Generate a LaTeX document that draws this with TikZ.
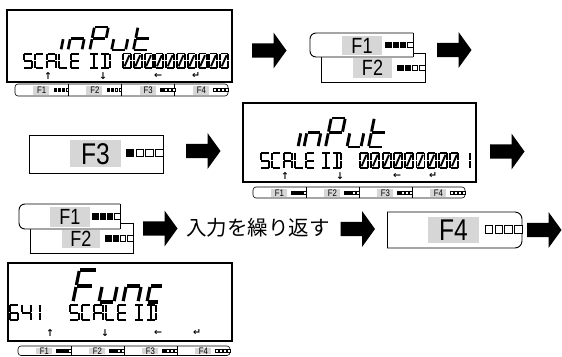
\documentclass[tikz,border=0pt]{standalone}
\usepackage{fontspec}
\setmainfont{Liberation Sans}
\newfontfamily\flab{Liberation Sans}[FakeStretch=0.82]
\newfontfamily\cjkf{Noto Sans CJK JP}
\newfontfamily\symf{DejaVu Sans}
\definecolor{labgray}{HTML}{D6D6D6}
% segment strokes in a unit cell (u right, v up)
\def\sga{\draw (0.05,1)--(0.95,1);}
\def\sgb{\draw (1,0.97)--(1,0.53);}
\def\sgc{\draw (1,0.47)--(1,0.03);}
\def\sgd{\draw (0.05,0)--(0.95,0);}
\def\sge{\draw (0,0.03)--(0,0.47);}
\def\sgf{\draw (0,0.53)--(0,0.97);}
\def\sgg{\draw (0.05,0.5)--(0.95,0.5);}
\def\sgs{\draw (0.2,0.12)--(0.8,0.88);}
\def\sgm{\draw (0.5,0.05)--(0.5,0.95);}
\newcommand\defch[2]{\expandafter\def\csname ch#1\endcsname{#2}}
\defch{S}{a,f,g,c,d}
\defch{C}{a,f,e,d}
\defch{A}{a,b,c,e,f,g}
\defch{L}{f,e,d}
\defch{E}{a,f,g,e,d}
\defch{I}{a,d,m}
\defch{D}{a,b,c,d,m}
\defch{0}{a,b,c,d,e,f,s}
\defch{1}{b,c}
\defch{4}{f,g,b,c}
\defch{6}{a,f,g,e,d,c}
\defch{i}{e}
\defch{n}{e,g,c}
\defch{P}{a,b,f,g,e}
\defch{u}{e,d,c}
\defch{t}{f,e,g,d}
\defch{F}{a,f,g,e}
\defch{c}{g,e,d}
% #1 x0  #2 bottom y  #3 pitch  #4 width  #5 height  #6 line width  #7 slant  #8 chars
\newcommand\segstr[8]{%
  \foreach \cc [count=\ii from 0] in {#8} {%
    \edef\seglist{\csname ch\cc\endcsname}%
    \begin{scope}[shift={(#1+\ii*#3,#2)}, x={(#4pt,0pt)}, y={(#7*#5pt,#5pt)}, line width=#6pt, line cap=butt]
      \foreach \sn in \seglist {\csname sg\sn\endcsname}
    \end{scope}
  }}
% function-key bar: #1 x0 #2 y0 #3 x1 #4 y1 #5 name prefix
\newcommand\fbar[5]{%
  \pgfmathsetmacro\fw{(#3-#1)/4}%
  \pgfmathsetmacro\my{(#2+#4)/2}%
  \draw[fb, rounded corners=3pt] (#1,#2) rectangle (#3,#4);
  \foreach \k in {1,2,3,4} {%
    \pgfmathsetmacro\sx{#1+(\k-1)*\fw}%
    \pgfmathsetmacro\ex{#1+\k*\fw}%
    \ifnum\k<4 \draw[fb] (\ex,#2)--(\ex,#4);\fi
    \fill[labgray] (\sx+0.34*\fw,#2+1.5) rectangle (\sx+0.64*\fw,#4-1.5);
    \node[font=\flab\fontsize{9.5}{9.5}\selectfont, inner sep=0] (#5\k) at (\sx+0.5*\fw,\my+0.3) {F\k};
    \foreach \j in {1,2,3,4} {%
      \pgfmathsetmacro\qx{\ex-(4-\j)*4-2.6}%
      \ifnum\j<\numexpr5-\k\relax
        \filldraw[line width=0.3pt] (\qx,\my-1.4) rectangle ++(2.6,2.8);
      \else
        \filldraw[line width=0.3pt, fill=white] (\qx,\my-1.4) rectangle ++(2.6,2.8);
      \fi}%
  }}
% indicator squares: #1 x right, #2 y centre, #3 size, #4 pitch, #5 number filled
\newcommand\indic[5]{%
  \foreach \j in {1,2,3,4} {%
    \pgfmathsetmacro\qx{#1-(4-\j)*#4-#3}%
    \ifnum\j>#5
      \filldraw[line width=0.6pt, fill=white] (\qx,#2-#3/2) rectangle ++(#3,#3);
    \else
      \filldraw[line width=0.6pt] (\qx,#2-#3/2) rectangle ++(#3,#3);
    \fi}}
% block arrow: #1 name, #2 x left, #3 y centre
\newcommand\barrow[3]{%
  \fill (#2,#3-7.2) -- (#2+21.5,#3-7.2) -- (#2+21.5,#3-18) -- (#2+34.5,#3)
        -- (#2+21.5,#3+18) -- (#2+21.5,#3+7.2) -- (#2,#3+7.2) -- cycle;
  \coordinate (#1) at (#2+17,#3);}
% pointer glyphs under a display: #1 prefix #2 y #3..#6 x
\newcommand\ptrs[6]{%
  \node[ptr] (#1u) at (#3,#2) {↑};
  \node[ptr] (#1d) at (#4,#2) {↓};
  \node[ptr] (#1l) at (#5,#2) {←};
  \node[ptr] (#1e) at (#6,#2) {↵};}
\begin{document}
\begin{tikzpicture}[x=1pt,y=-1pt,
  lcd/.style={line width=1.5pt},
  fb/.style={line width=0.6pt},
  bx/.style={line width=0.9pt},
  ptr/.style={font=\symf\bfseries\fontsize{9.5}{9.5}\selectfont, inner sep=0},
  bigF/.style={font=\flab\fontsize{30}{30}\selectfont, inner sep=0},
  midF/.style={font=\flab\fontsize{22}{22}\selectfont, inner sep=0}]
\useasboundingbox (0,0) rectangle (562,356);

% ---------- display 1
\draw[lcd] (7,10) rectangle (232,82);
\segstr{61}{50}{0}{14}{23}{2.7}{0.2}{i}
\segstr{68}{50}{21.8}{14}{23}{2.7}{0.2}{n,P,u,t}
\segstr{23.5}{68}{11.8}{8.5}{14.5}{2}{0}{S,C,A,L,E}
\segstr{90}{68}{11}{8.5}{14.5}{2}{0}{I,D}
\segstr{123}{68}{10.8}{8}{14.5}{1.9}{0}{0,0,0,0,0,0,0,0,0,0}
\ptrs{p1}{76}{48}{103}{158}{196}
\fbar{15}{84}{228}{96}{ba}

\barrow{ar1}{252}{50.5}

% F1 / F2 keys (row 1)
\draw[bx] (321,53) rectangle (425,82);
\fill[labgray] (353,58) rectangle (392,78);
\node[midF] (k2a) at (372.5,68) {F2};
\indic{425}{68}{5.5}{7.3}{2}
\filldraw[bx, fill=white, rounded corners=6pt] (413,33) -- (310,33) -- (310,57) -- (413,57);
\draw[bx] (413,33) -- (413,57);
\fill[labgray] (342,35.5) rectangle (382,55);
\node[midF] (k1a) at (362,45.5) {F1};
\indic{413}{45}{5.5}{7.3}{3}

\barrow{ar2}{437}{50}

% ---------- row 2
\draw[bx] (29,135) rectangle (163,173);
\fill[labgray] (70,140) rectangle (121,167);
\node[bigF] (k3) at (95.5,154) {F3};
\indic{163}{153}{7.5}{9.8}{1}

\barrow{ar3}{186}{151}

\draw[lcd] (243,103) rectangle (476,182);
\segstr{298}{147}{0}{14}{29}{2.9}{0.2}{i}
\segstr{304}{147}{21.5}{14}{29}{2.9}{0.2}{n,P,u,t}
\segstr{261}{168}{11.3}{8.3}{15}{2}{0}{S,C,A,L,E}
\segstr{322}{168}{11}{8.3}{15}{2}{0}{I,D}
\segstr{360}{168}{11.3}{8}{15}{1.9}{0}{0,0,0,0,0,0,0,0,0,1}
\ptrs{p2}{176}{285}{340}{397}{433}
\fbar{253}{187}{465}{198}{bb}

\barrow{ar4}{490}{151.5}

% ---------- row 3
\draw[bx] (30,223) rectangle (133,253);
\fill[labgray] (62,230) rectangle (100,248);
\node[midF] (k2b) at (81,239) {F2};
\indic{133}{238.5}{5.5}{7.3}{2}
\filldraw[bx, fill=white, rounded corners=6pt] (120,204) -- (19,204) -- (19,229) -- (120,229);
\draw[bx] (120,204) -- (120,229);
\fill[labgray] (50,206.5) rectangle (90,227);
\node[midF] (k1b) at (70,217) {F1};
\indic{120}{216.5}{5.5}{7.3}{3}

\barrow{ar5}{143}{228.5}
\node[font=\cjkf\fontsize{20.5}{20.5}\selectfont, inner sep=0] (rep) at (258,228) {入力を繰り返す};
\barrow{ar6}{340.5}{229}

\filldraw[bx, fill=white, rounded corners=7pt] (387,212) -- (522,212) -- (522,248) -- (387,248);
\draw[bx] (387,212) -- (387,248);
\fill[labgray] (428,217) rectangle (479,243);
\node[bigF] (k4) at (453.5,230.5) {F4};
\indic{522}{229.5}{7.5}{9.8}{0}

\barrow{ar7}{527}{230}

% ---------- display 3
\draw[lcd] (8,263) rectangle (232,341);
\segstr{73}{302}{0}{17}{32}{3.2}{0.2}{F}
\segstr{99}{302}{24}{15}{32}{3.2}{0.2}{u,n}
\segstr{147}{302}{0}{12}{32}{3.2}{0.2}{c}
\segstr{10}{320}{0}{8}{15}{2}{0}{6}
\segstr{22}{320}{0}{9}{15}{2}{0}{4}
\segstr{31.5}{320}{0}{8.5}{15}{2}{0}{1}
\segstr{70}{320}{12}{8.5}{15}{2}{0}{S,C,A,L,E}
\segstr{135}{320}{12}{8.5}{15}{2}{0}{I,D}
\ptrs{p3}{333}{50}{105}{158}{197}
\fbar{18}{346}{230}{355.5}{bc}
\end{tikzpicture}
\end{document}
